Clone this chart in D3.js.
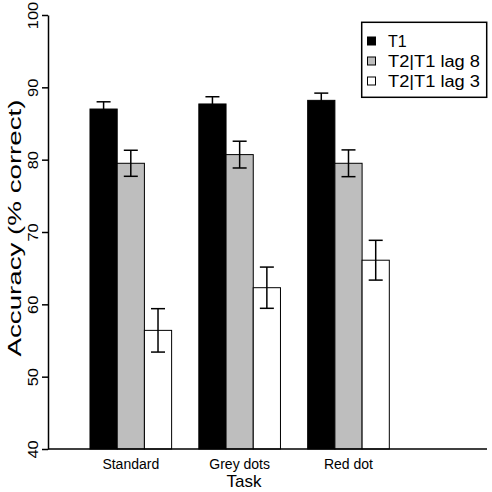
<!DOCTYPE html>
<html>
<head>
<meta charset="utf-8">
<script src="https://cdn.jsdelivr.net/npm/d3@7"></script>
<style>
  html, body { margin: 0; padding: 0; background: #fff; }
  svg { display: block; font-family: "Liberation Sans", Arial, Helvetica, sans-serif; }
</style>
</head>
<body>
<svg id="chart" width="492" height="492"></svg>
<script>
// ---- data ----
const categories = ["Standard", "Grey dots", "Red dot"];
const seriesNames = ["T1", "T2|T1 lag 8", "T2|T1 lag 3"];
const seriesColors = ["#000000", "#bebebe", "#ffffff"];
const t1Values = [87.0, 87.7, 88.2];
const lag8Values = [79.5, 80.7, 79.5];
const lag3Values = [56.4, 62.3, 66.1];
const t1Errors = [1.0, 1.0, 1.0];
const lag8Errors = [1.8, 1.85, 1.85];
const lag3Errors = [3.0, 2.85, 2.75];
const yTicks = [40, 50, 60, 70, 80, 90, 100];
const xTitle = "Task";
const yTitle = "Accuracy (% correct)";

const seriesValues = [t1Values, lag8Values, lag3Values];
const seriesErrors = [t1Errors, lag8Errors, lag3Errors];

// ---- layout ----
const svg = d3.select("#chart");
const plot = { left: 48, right: 487, top: 15, bottom: 449 };

// bar-unit scale (R barplot style: group i starts at 4*i+1, bar width 1)
const x = d3.scaleLinear().domain([-0.543, 15.59]).range([plot.left, plot.right]);
const y = d3.scaleLinear().domain([40, 100]).range([plot.bottom, plot.top]);

const bars = [];
categories.forEach((c, gi) => {
  seriesValues.forEach((vals, si) => {
    const x0 = 4 * gi + 1 + si;
    bars.push({ gi, si, x0, x1: x0 + 1, v: vals[gi], e: seriesErrors[si][gi] });
  });
});

// bars
svg.append("g").selectAll("rect").data(bars).join("rect")
  .attr("x", d => x(d.x0))
  .attr("y", d => y(d.v))
  .attr("width", d => x(d.x1) - x(d.x0))
  .attr("height", d => y(40) - y(d.v))
  .attr("fill", d => seriesColors[d.si])
  .attr("stroke", "#000")
  .attr("stroke-width", 1);

// error bars
const capHalf = 7;
const eg = svg.append("g").attr("stroke", "#000").attr("stroke-width", 1.5);
bars.forEach(d => {
  const cx = (x(d.x0) + x(d.x1)) / 2;
  const yTop = y(d.v + d.e), yBot = y(d.v - d.e);
  eg.append("line").attr("x1", cx).attr("x2", cx).attr("y1", yTop).attr("y2", yBot);
  eg.append("line").attr("x1", cx - capHalf).attr("x2", cx + capHalf).attr("y1", yTop).attr("y2", yTop);
  eg.append("line").attr("x1", cx - capHalf).attr("x2", cx + capHalf).attr("y1", yBot).attr("y2", yBot);
});

// y axis
const yAxis = d3.axisLeft(y).tickValues(yTicks).tickSize(6).tickSizeOuter(0).tickFormat(d3.format("d"));
const yg = svg.append("g").attr("transform", `translate(${plot.left},0)`).call(yAxis);
yg.select(".domain").attr("stroke-width", 1.5);
yg.selectAll(".tick line").attr("stroke-width", 1.5);
yg.selectAll(".tick text")
  .attr("x", null).attr("dy", null)
  .attr("font-size", 14)
  .attr("fill", "#000")
  .attr("text-anchor", "middle")
  .attr("transform", "translate(-10,0) rotate(-90) scale(1.17,1)");

// x baseline
svg.append("line")
  .attr("x1", plot.left).attr("x2", plot.right)
  .attr("y1", plot.bottom).attr("y2", plot.bottom)
  .attr("stroke", "#000").attr("stroke-width", 1.5);

// category labels
svg.append("g").selectAll("text").data(categories).join("text")
  .attr("x", (c, i) => x(4 * i + 2.5))
  .attr("y", 468.5)
  .attr("text-anchor", "middle")
  .attr("font-size", 14)
  .text(c => c);

// axis titles
svg.append("text")
  .attr("x", 244).attr("y", 487)
  .attr("text-anchor", "middle")
  .attr("font-size", 17)
  .text(xTitle);

svg.append("text")
  .attr("transform", "translate(21,228) rotate(-90)")
  .attr("text-anchor", "middle")
  .attr("font-size", 18)
  .attr("textLength", 257)
  .attr("lengthAdjust", "spacingAndGlyphs")
  .text(yTitle);

// legend
const lg = svg.append("g");
lg.append("rect")
  .attr("x", 361.7).attr("y", 22.3).attr("width", 125).attr("height", 75)
  .attr("fill", "#fff").attr("stroke", "#000").attr("stroke-width", 1.5);
seriesNames.forEach((n, i) => {
  const cy = 41 + i * 20;
  lg.append("rect")
    .attr("x", 367.5).attr("y", cy - 4).attr("width", 8).attr("height", 8)
    .attr("fill", seriesColors[i]).attr("stroke", "#000").attr("stroke-width", 1);
  const t = lg.append("text")
    .attr("x", 388).attr("y", cy + 5.5)
    .attr("font-size", 16)
    .text(n);
  if (i > 0) t.attr("textLength", 92).attr("lengthAdjust", "spacingAndGlyphs");
});
</script>
</body>
</html>
